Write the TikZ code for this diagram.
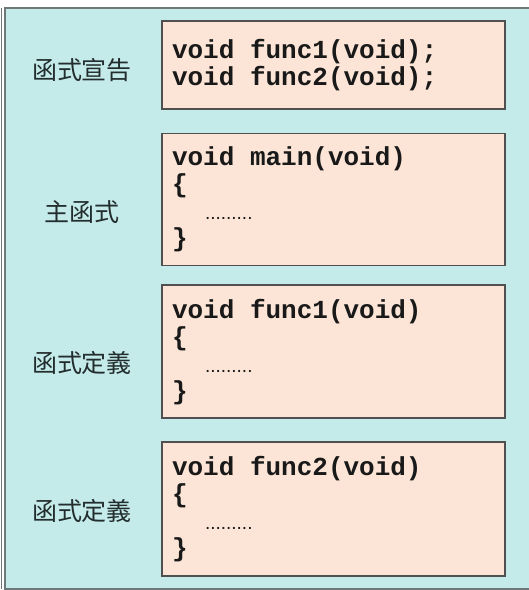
\documentclass[tikz,border=0pt]{standalone}
\usepackage{fontspec}
\newfontfamily\cjkfont{Noto Sans CJK TC}
\newfontfamily\codefont{Liberation Mono}
\newfontfamily\dotfont{Liberation Sans}
\usetikzlibrary{positioning}

\definecolor{panelcyan}{RGB}{196,235,234}
\definecolor{codepeach}{RGB}{252,229,214}
\definecolor{boxedge}{RGB}{80,80,80}
\definecolor{titlegray}{RGB}{35,45,45}
\definecolor{framegray}{RGB}{110,120,120}

\newcommand{\cgap}{\hspace*{.6em}}
\newcommand{\bodydots}{\hspace*{33pt}{\dotfont\mdseries\fontsize{19}{19}\selectfont .........}}

\begin{document}
\begin{tikzpicture}[x=1pt,y=-1pt,
  node distance=20pt,
  codebox/.style={draw=boxedge,line width=1.6pt,fill=codepeach,
    minimum width=343pt,text width=323pt,inner xsep=10pt,inner ysep=0pt,align=left,
    font=\codefont\bfseries\fontsize{26}{27}\selectfont,text=black!90},
  parttitle/.style={font=\cjkfont\fontsize{25}{25}\selectfont,text=titlegray,inner sep=0pt}
]
\useasboundingbox (0,0) rectangle (529,590);
% panel
\fill[panelcyan] (5,8) rectangle (529,589);
\draw[framegray,line width=1.5pt] (529,8) -- (5,8) -- (5,589) -- (529,589);
\draw[framegray,line width=.8pt] (1.5,8) -- (1.5,589);

% code boxes
\node[codebox,minimum height=88pt] (decl) at (333.5,65)
  {void\cgap func1(void);\\void\cgap func2(void);};
\node[codebox,minimum height=132pt,below=23pt of decl] (mainfn)
  {void\cgap main(void)\\\{\\\bodydots\\\}};
\node[codebox,minimum height=133pt,below=18pt of mainfn] (funcone)
  {void\cgap func1(void)\\\{\\\bodydots\\\}};
\node[codebox,minimum height=134pt,below=22pt of funcone] (functwo)
  {void\cgap func2(void)\\\{\\\bodydots\\\}};

% titles
\node[parttitle] (decltitle) at (82,70) {函式宣告};
\node[parttitle] (maintitle) at (82,212) {主函式};
\node[parttitle] (onetitle) at (82,363) {函式定義};
\node[parttitle] (twotitle) at (82,511) {函式定義};
\end{tikzpicture}
\end{document}
